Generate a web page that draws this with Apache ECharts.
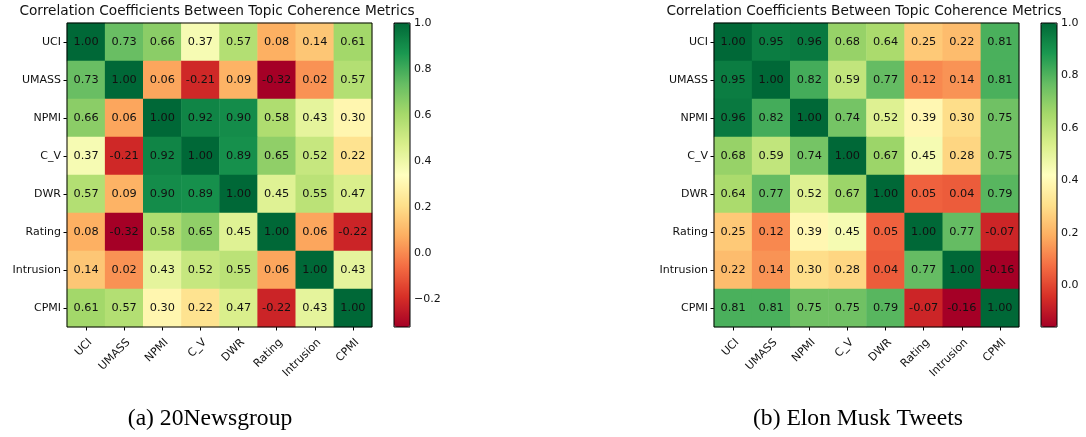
<!DOCTYPE html>
<html>
<head>
<meta charset="utf-8">
<script src="https://cdn.jsdelivr.net/npm/echarts@6/dist/echarts.min.js"></script>
<style>
  html, body { margin: 0; padding: 0; background: #fff; }
  #chart { width: 1086px; height: 437px; }
</style>
</head>
<body>
<div id="chart"></div>
<script>
// metric names, same order on both axes
var metrics = ['UCI', 'UMASS', 'NPMI', 'C_V', 'DWR', 'Rating', 'Intrusion', 'CPMI'];

// (a) 20Newsgroup, one row per metric
var newsRows = [
    [1.00, 0.73, 0.66, 0.37, 0.57, 0.08, 0.14, 0.61],
    [0.73, 1.00, 0.06, -0.21, 0.09, -0.32, 0.02, 0.57],
    [0.66, 0.06, 1.00, 0.92, 0.90, 0.58, 0.43, 0.30],
    [0.37, -0.21, 0.92, 1.00, 0.89, 0.65, 0.52, 0.22],
    [0.57, 0.09, 0.90, 0.89, 1.00, 0.45, 0.55, 0.47],
    [0.08, -0.32, 0.58, 0.65, 0.45, 1.00, 0.06, -0.22],
    [0.14, 0.02, 0.43, 0.52, 0.55, 0.06, 1.00, 0.43],
    [0.61, 0.57, 0.30, 0.22, 0.47, -0.22, 0.43, 1.00]
];

// (b) Elon Musk Tweets
var muskRows = [
    [1.00, 0.95, 0.96, 0.68, 0.64, 0.25, 0.22, 0.81],
    [0.95, 1.00, 0.82, 0.59, 0.77, 0.12, 0.14, 0.81],
    [0.96, 0.82, 1.00, 0.74, 0.52, 0.39, 0.30, 0.75],
    [0.68, 0.59, 0.74, 1.00, 0.67, 0.45, 0.28, 0.75],
    [0.64, 0.77, 0.52, 0.67, 1.00, 0.05, 0.04, 0.79],
    [0.25, 0.12, 0.39, 0.45, 0.05, 1.00, 0.77, -0.07],
    [0.22, 0.14, 0.30, 0.28, 0.04, 0.77, 1.00, -0.16],
    [0.81, 0.81, 0.75, 0.75, 0.79, -0.07, -0.16, 1.00]
];

// colorbar ticks
var newsTicks = [-0.2, 0.0, 0.2, 0.4, 0.6, 0.8, 1.0];
var muskTicks = [0.0, 0.2, 0.4, 0.6, 0.8, 1.0];

var titleText = 'Correlation Coefficients Between Topic Coherence Metrics';
var captions = ['(a) 20Newsgroup', '(b) Elon Musk Tweets'];

// matplotlib RdYlGn
var rdylgn = ['#a50026', '#d73027', '#f46d43', '#fdae61', '#fee08b', '#ffffbf',
              '#d9ef8b', '#a6d96a', '#66bd63', '#1a9850', '#006837'];

var FONT = 'DejaVu Sans';

function toCells(rows) {
    var out = [];
    for (var r = 0; r < rows.length; r++) {
        for (var c = 0; c < rows[r].length; c++) {
            out.push([c, r, rows[r][c]]);
        }
    }
    return out;
}

function minOf(rows) {
    var m = Infinity;
    rows.forEach(function (r) { r.forEach(function (v) { if (v < m) m = v; }); });
    return m;
}

var panels = [
    { rows: newsRows, ticks: newsTicks, left: 67, barLeft: 394, titleX: 217, capX: 210 },
    { rows: muskRows, ticks: muskTicks, left: 714, barLeft: 1041, titleX: 864, capX: 858 }
];

var TOP = 23, SIZE_W = 305, SIZE_H = 304, BAR_W = 16;

var grids = [], xAxes = [], yAxes = [], series = [], visualMaps = [], titles = [];

panels.forEach(function (p, i) {
    var lo = minOf(p.rows);
    // heatmap grid
    grids.push({
        left: p.left, top: TOP, width: SIZE_W, height: SIZE_H,
        show: true, borderColor: '#000', borderWidth: 1, backgroundColor: 'transparent', z: 5
    });
    // colorbar grid
    grids.push({
        left: p.barLeft, top: TOP, width: BAR_W, height: SIZE_H,
        show: true, borderColor: '#000', borderWidth: 1, backgroundColor: 'transparent', z: 6
    });

    xAxes.push({
        type: 'category', gridIndex: i * 2, data: metrics,
        axisLine: { show: false },
        axisTick: { show: true, alignWithLabel: true, length: 3.5, lineStyle: { color: '#000' } },
        axisLabel: {
            rotate: 45, margin: 18, padding: [0, -6, 0, 0],
            fontFamily: FONT, fontSize: 11, color: '#111'
        },
        splitLine: { show: false }, splitArea: { show: false }
    });
    xAxes.push({
        type: 'value', gridIndex: i * 2 + 1, show: false
    });

    yAxes.push({
        type: 'category', gridIndex: i * 2, data: metrics, inverse: true,
        axisLine: { show: false },
        axisTick: { show: true, alignWithLabel: true, length: 3.5, lineStyle: { color: '#000' } },
        axisLabel: { margin: 6, fontFamily: FONT, fontSize: 11, color: '#111' },
        splitLine: { show: false }, splitArea: { show: false }
    });
    yAxes.push({
        type: 'value', gridIndex: i * 2 + 1, position: 'right',
        min: lo, max: 1.0,
        axisLine: { show: false },
        splitLine: { show: false },
        axisTick: { show: true, length: 3.5, customValues: p.ticks, lineStyle: { color: '#000' } },
        axisLabel: {
            margin: 4, fontFamily: FONT, fontSize: 11, color: '#111',
            customValues: p.ticks,
            formatter: function (v) {
                var s = Math.abs(v).toFixed(1);
                return v < -1e-9 ? '\u2212' + s : s;
            }
        }
    });

    series.push({
        type: 'heatmap',
        xAxisIndex: i * 2, yAxisIndex: i * 2,
        data: toCells(p.rows),
        label: {
            show: true, fontFamily: FONT, fontSize: 11.3, color: '#111',
            formatter: function (d) { return d.value[2].toFixed(2); }
        },
        itemStyle: { borderWidth: 0 },
        emphasis: { disabled: true }
    });

    visualMaps.push({
        type: 'continuous', seriesIndex: i,
        min: lo, max: 1.0,
        left: p.barLeft, top: TOP,
        itemWidth: BAR_W, itemHeight: SIZE_H,
        padding: 0, calculable: false, hoverLink: false,
        text: null, showLabel: false,
        inRange: { color: rdylgn }
    });

    titles.push({
        text: titleText, left: p.titleX, top: 4, textAlign: 'center', padding: 0,
        textStyle: { fontFamily: FONT, fontSize: 13.7, fontWeight: 'normal', color: '#111' }
    });
    titles.push({
        text: captions[i], left: p.capX, top: 407, textAlign: 'center', padding: 0,
        textStyle: { fontFamily: 'Liberation Serif', fontSize: 23.6, fontWeight: 'normal', color: '#000' }
    });
});

var chart = echarts.init(document.getElementById('chart'), null, { renderer: 'canvas' });
chart.setOption({
    backgroundColor: '#fff',
    animation: false,
    title: titles,
    grid: grids,
    xAxis: xAxes,
    yAxis: yAxes,
    visualMap: visualMaps,
    series: series
});
</script>
</body>
</html>
